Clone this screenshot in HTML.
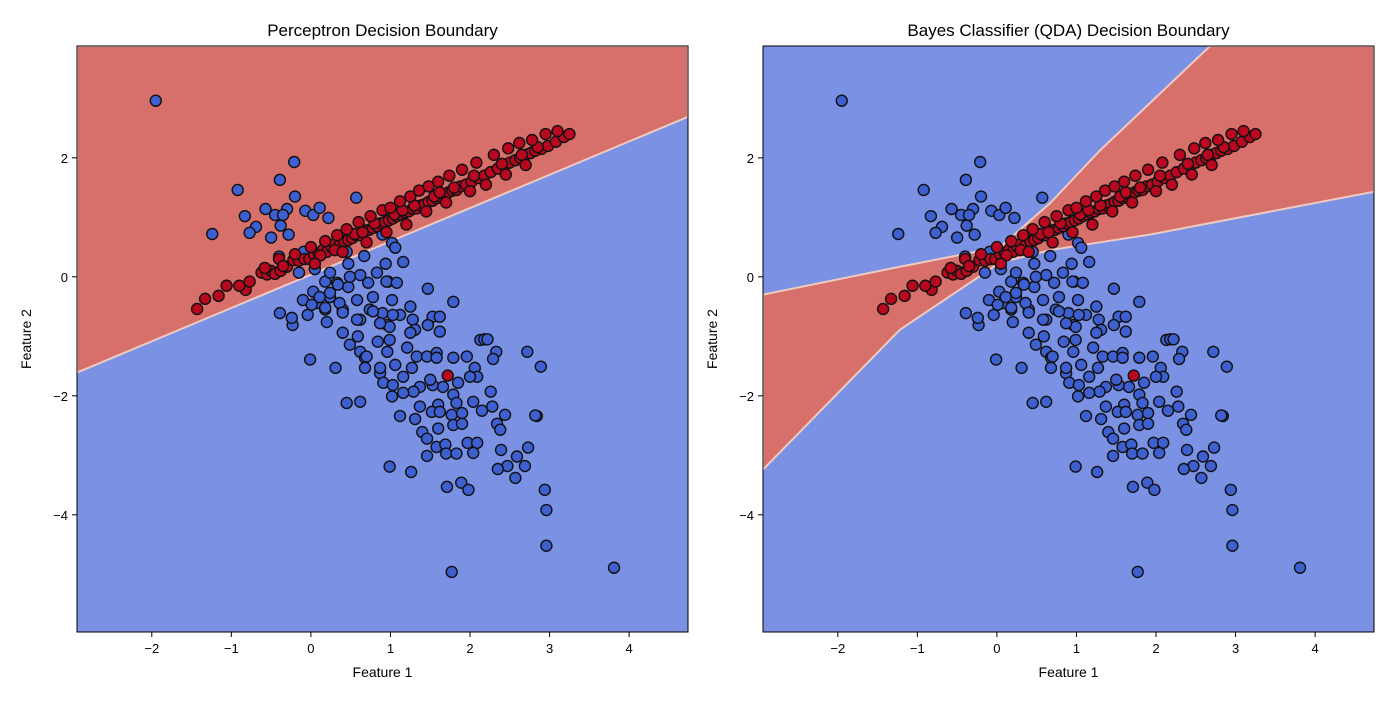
<!DOCTYPE html>
<html><head><meta charset="utf-8"><style>
body{margin:0;background:#fff;}
svg{display:block;font-family:"Liberation Sans","DejaVu Sans",sans-serif;}
</style></head><body>
<svg id="chart" width="1400" height="703" viewBox="0 0 1400 703" xmlns="http://www.w3.org/2000/svg"></svg>
<script>
const xTicks=[-2,-1,0,1,2,3,4];
const yTicks=[2,0,-2,-4];
const xTickLabels=["−2","−1","0","1","2","3","4"];
const yTickLabels=["2","0","−2","−4"];
const titles=["Perceptron Decision Boundary","Bayes Classifier (QDA) Decision Boundary"];
const percBoundaryX=[-2.94,4.74];
const percBoundaryY=[-1.61,2.69];
const qdaUpperX=[-2.94,-1.22,0.04,0.67,1.3,2.68];
const qdaUpperY=[-0.3,0.17,0.5,1.24,2.13,3.88];
const qdaLowerX=[-2.94,-1.22,0.04,0.67,1.92,4.74];
const qdaLowerY=[-3.24,-0.89,0.24,0.45,0.71,1.43];
const blueX=[-1.95,-0.21,-0.39,-0.92,-0.2,0.57,-0.57,-0.3,-0.83,-0.45,-0.35,-0.07,0.03,0.11,0.22,-0.69,-0.77,-0.38,-0.5,-0.28,-1.24,-0.4,-0.09,-0.15,0.05,0.45,0.67,0.9,1.02,1.06,1.16,0.94,0.47,1.47,-0.39,-0.23,-0.24,-0.04,-0.1,0.18,0.24,0.33,0.47,0.62,0.83,0.97,0.78,0.58,0.4,0.18,0.08,0.24,0.36,0.03,1.02,1.25,0.9,1.12,1.28,1.53,0.2,0.62,0.96,0.74,
1.79,-0.01,0.31,0.45,0.62,0.78,1.03,1.62,1.47,1.62,1.31,1.25,0.99,0.84,0.49,0.62,0.96,1.21,1.33,1.46,1.58,1.58,1.79,1.96,2.13,2.33,2.29,2.72,2.89,2.06,2.09,2.0,1.85,1.66,1.53,1.37,1.5,1.29,1.16,1.02,0.87,0.91,1.03,0.68,0.68,0.87,1.06,1.16,1.27,1.79,1.83,1.6,1.37,1.52,1.62,1.77,1.9,2.04,2.15,2.28,2.44,2.26,2.84,1.31,1.12,1.79,1.9,1.6,2.34,2.38,1.4,1.46,1.58,1.69,1.7,1.83,1.97,2.09,2.04,1.46,2.39,2.59,2.73,2.69,2.47,2.35,2.57,0.99,1.26,1.71,1.89,1.98,2.94,2.96,2.96,1.77,3.81,
0.01,0.11,0.24,0.34,0.49,0.72,0.95,1.08,0.18,0.4,0.58,0.99,0.4,0.59,0.87,0.7,2.18,2.22,2.82];
const blueY=[2.96,1.93,1.63,1.46,1.35,1.33,1.14,1.14,1.02,1.04,1.04,1.11,1.04,1.16,0.99,0.84,0.74,0.86,0.66,0.71,0.72,0.34,0.42,0.07,0.13,0.42,0.35,0.71,0.57,0.49,0.25,0.22,0.22,-0.2,-0.61,-0.81,-0.69,-0.64,-0.39,-0.08,0.07,-0.1,-0.17,0.03,0.07,-0.08,-0.34,-0.39,-0.55,-0.55,-0.44,-0.34,-0.44,-0.25,-0.39,-0.5,-0.61,-0.64,-0.72,-0.67,-0.76,-0.72,-0.81,-0.55,
-0.42,-1.39,-1.53,-2.12,-2.1,-0.58,-0.64,-0.67,-0.81,-0.92,-0.89,-0.94,-1.06,-1.09,-1.14,-1.26,-1.26,-1.19,-1.34,-1.34,-1.28,-1.36,-1.36,-1.34,-1.06,-1.26,-1.38,-1.26,-1.51,-1.53,-1.68,-1.68,-1.78,-1.85,-1.82,-1.85,-1.73,-1.93,-1.95,-2.01,-1.62,-1.78,-1.82,-1.36,-1.53,-1.53,-1.48,-1.68,-1.53,-1.98,-2.12,-2.15,-2.18,-2.27,-2.27,-2.32,-2.29,-2.1,-2.25,-2.18,-2.32,-1.93,-2.34,-2.39,-2.34,-2.49,-2.47,-2.55,-2.47,-2.57,-2.61,-2.72,-2.86,-2.82,-2.97,-2.97,-2.79,-2.79,-2.96,-3.01,-2.91,-3.02,-2.87,-3.18,-3.18,-3.23,-3.38,-3.19,-3.28,-3.53,-3.46,-3.58,-3.58,-3.92,-4.52,-4.96,-4.89,
-0.47,-0.34,-0.27,-0.13,0.0,-0.1,-0.08,-0.1,-0.52,-0.6,-0.72,-0.84,-0.94,-1.0,-0.78,-1.34,-1.05,-1.05,-2.33];
const redX=[-1.43,-1.33,-1.16,-1.06,-0.82,-0.77,-0.62,-0.55,-0.5,-0.45,-0.38,-0.3,-0.22,-0.15,-0.08,-0.02,0.04,0.1,0.15,0.2,0.26,0.3,0.36,0.42,0.47,0.52,0.57,0.62,0.68,0.73,0.78,0.83,0.88,0.93,0.98,1.03,1.08,1.13,1.18,1.23,1.28,1.33,1.38,1.43,1.48,1.53,1.58,1.63,1.68,1.73,1.78,1.83,1.88,1.95,2.02,2.1,2.18,2.26,2.35,2.43,2.5,2.57,2.63,2.7,2.76,2.82,2.9,2.98,3.08,3.18,3.25,0.3,0.55,0.8,1.05,1.3,1.55,1.8,2.05,2.4,2.65,2.85,0.12,0.65,1.15,1.62,1.72,
-0.58,-0.4,-0.2,0.0,0.18,0.33,0.45,0.6,0.75,0.9,1.0,1.12,1.25,1.36,1.48,1.6,1.74,1.9,2.08,2.3,2.48,2.62,2.78,2.95,3.1,-0.9,-0.35,0.05,0.4,0.7,0.95,1.2,1.45,1.7,2.0,2.2,2.45,2.7];
const redY=[-0.54,-0.37,-0.32,-0.15,-0.22,-0.08,0.07,0.04,0.1,0.05,0.1,0.17,0.28,0.27,0.3,0.3,0.38,0.4,0.45,0.42,0.5,0.55,0.53,0.6,0.62,0.65,0.7,0.7,0.78,0.79,0.82,0.85,0.9,0.92,0.95,0.98,1.02,1.05,1.08,1.1,1.14,1.15,1.2,1.22,1.26,1.28,1.32,1.35,1.38,1.42,1.45,1.46,1.52,1.55,1.6,1.66,1.7,1.76,1.82,1.87,1.92,1.96,2.0,2.05,2.08,2.12,2.15,2.2,2.27,2.35,2.4,0.45,0.72,0.9,1.05,1.2,1.35,1.5,1.7,1.9,2.05,2.18,0.36,0.75,1.12,1.42,-1.66,
0.15,0.3,0.38,0.5,0.6,0.7,0.8,0.92,1.02,1.12,1.16,1.27,1.35,1.45,1.52,1.6,1.7,1.8,1.92,2.05,2.16,2.25,2.3,2.4,2.45,-0.15,0.18,0.22,0.42,0.58,0.75,0.88,1.1,1.25,1.44,1.55,1.72,1.88];

const NS="http://www.w3.org/2000/svg";
const svg=document.getElementById('chart');
function mk(tag,attrs,parent){const e=document.createElementNS(NS,tag);for(const k in attrs)e.setAttribute(k,attrs[k]);(parent||svg).appendChild(e);return e;}
const X0=-2.94,X1=4.74,Y0=-5.97,Y1=3.88;
const panels=[{left:77,right:688},{left:763,right:1374}];
const plotTop=46,plotBottom=632;
panels.forEach((p,pi)=>{
  const sx=v=>p.left+(v-X0)/(X1-X0)*(p.right-p.left);
  const sy=v=>plotBottom-(v-Y0)/(Y1-Y0)*(plotBottom-plotTop);
  const g=mk('g',{});
  
  
  const clipId='clip'+pi;
  const cp=mk('clipPath',{id:clipId},g);
  mk('rect',{x:p.left,y:plotTop,width:p.right-p.left,height:plotBottom-plotTop},cp);
  const plot=mk('g',{'clip-path':'url(#'+clipId+')'},g);
  const bg=mk('rect',{x:p.left,y:plotTop,width:p.right-p.left,height:plotBottom-plotTop,fill:'#7b91e4'},plot);
  
  
  let pts;
  if(pi===0){
    pts=[[sx(percBoundaryX[0]),sy(percBoundaryY[0])],[sx(percBoundaryX[1]),sy(percBoundaryY[1])],[p.right,plotTop],[p.left,plotTop]];
  } else {
    pts=[];
    for(let i=0;i<qdaUpperX.length;i++)pts.push([sx(qdaUpperX[i]),sy(qdaUpperY[i])]);
    pts.push([p.right,plotTop]);
    for(let i=qdaLowerX.length-1;i>=0;i--)pts.push([sx(qdaLowerX[i]),sy(qdaLowerY[i])]);
  }
  const red=mk('polygon',{points:pts.map(q=>q.join(',')).join(' '),fill:'#d7706a',stroke:'#eecbc2','stroke-width':2},plot);
  
  
  for(let i=0;i<blueX.length;i++){
    const c=mk('circle',{cx:sx(blueX[i]),cy:sy(blueY[i]),r:5.5,fill:'#3e5fd0',stroke:'#111','stroke-width':1.4},plot);
    
    
  }
  for(let i=0;i<redX.length;i++){
    const c=mk('circle',{cx:sx(redX[i]),cy:sy(redY[i]),r:5.5,fill:'#b8071f',stroke:'#111','stroke-width':1.4},plot);
    
    
  }
  const fr=mk('rect',{x:p.left,y:plotTop,width:p.right-p.left,height:plotBottom-plotTop,fill:'none',stroke:'#000','stroke-width':1},g);
  
  
  xTicks.forEach((t,i)=>{
    mk('line',{x1:sx(t),x2:sx(t),y1:plotBottom,y2:plotBottom+5,stroke:'#000'},g);
    const tx=mk('text',{x:sx(t),y:plotBottom+21,'text-anchor':'middle','font-size':13,fill:'#000'},g);
    tx.textContent=xTickLabels[i];
    
    
  });
  yTicks.forEach((t,i)=>{
    mk('line',{x1:p.left-5,x2:p.left,y1:sy(t),y2:sy(t),stroke:'#000'},g);
    const tx=mk('text',{x:p.left-9,y:sy(t)+5,'text-anchor':'end','font-size':13,fill:'#000'},g);
    tx.textContent=yTickLabels[i];
    
    
  });
  const tt=mk('text',{x:(p.left+p.right)/2,y:36,'text-anchor':'middle','font-size':17,fill:'#000'},g);
  tt.textContent=titles[pi];
  
  
  const xl=mk('text',{x:(p.left+p.right)/2,y:677,'text-anchor':'middle','font-size':14,fill:'#000'},g);
  xl.textContent='Feature 1';
  
  
  const yl=mk('text',{x:0,y:0,'text-anchor':'middle','font-size':14,fill:'#000',transform:'translate('+(p.left-46)+','+((plotTop+plotBottom)/2)+') rotate(-90)'},g);
  yl.textContent='Feature 2';
  
  
});
</script>
</body></html>
